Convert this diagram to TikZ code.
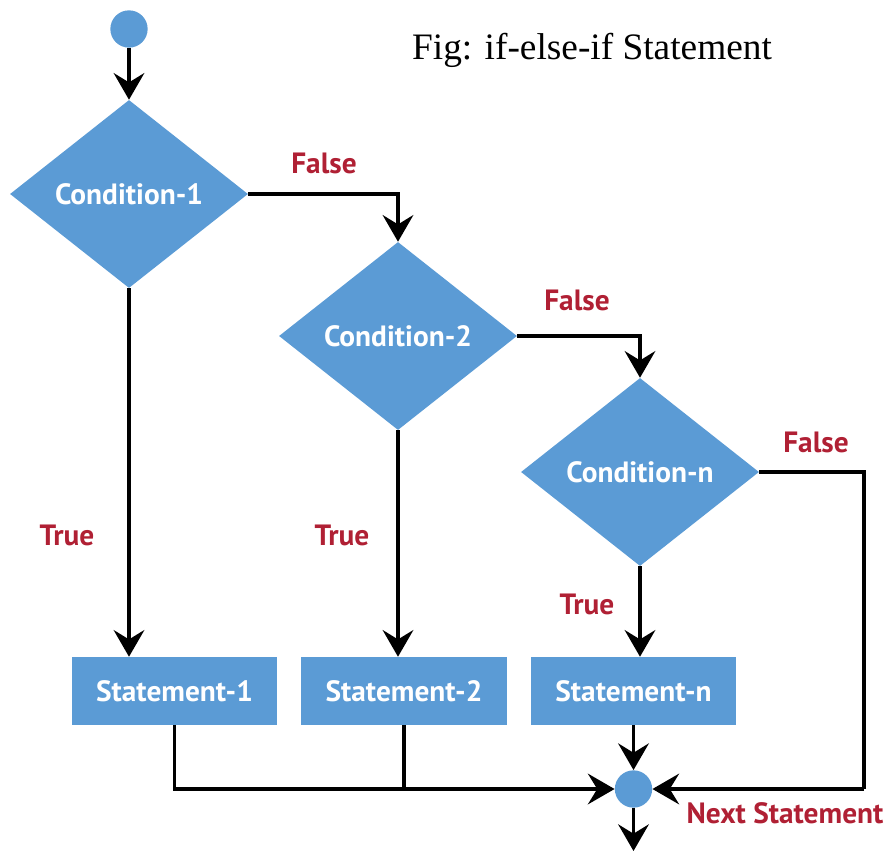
\documentclass[tikz,border=0pt]{standalone}
\usepackage{fontspec}
\setmainfont{Liberation Serif}
\setsansfont{PT Sans}
\usetikzlibrary{shapes.geometric,arrows.meta}
\definecolor{boxblue}{RGB}{91,155,213}
\definecolor{lblred}{RGB}{176,32,52}
\begin{document}
\begin{tikzpicture}[x=0.75pt,y=-0.75pt,
  cond/.style={diamond,fill=boxblue,draw=none,inner sep=0pt,aspect=1.27,
    minimum width=178.5pt,minimum height=141pt,text=white,
    font=\sffamily\bfseries\fontsize{22}{24}\selectfont},
  stmt/.style={rectangle,fill=boxblue,draw=none,minimum width=154pt,minimum height=51pt,
    inner sep=0pt,text=white,font=\sffamily\bfseries\fontsize{22}{24}\selectfont},
  dot/.style={circle,fill=boxblue,draw=none,minimum size=28pt,inner sep=0pt},
  lbl/.style={text=lblred,font=\sffamily\bfseries\fontsize{22}{24}\selectfont,inner sep=0pt},
  arr/.style={line width=2.3pt,-{Stealth[length=20pt,width=23pt,inset=7pt]}},
  ln/.style={line width=2.3pt}]
\useasboundingbox (0,0) rectangle (888,852);
\node[dot] (start) at (129,29) {};
\node[cond] (c1) at (129,194) {Condition-1};
\node[cond] (c2) at (398,336) {Condition-2};
\node[cond] (c3) at (640,472) {Condition-n};
\node[stmt] (s1) at (174.5,691) {Statement-1};
\node[stmt] (s2) at (404,691) {Statement-2};
\node[stmt] (sn) at (633.5,691) {Statement-n};
\node[dot] (end) at (633.5,789) {};
\coordinate (rx) at (864,0);
\coordinate (out) at (633.5,851);
\node[anchor=center,font=\fontsize{28}{31}\selectfont,inner sep=0pt] (title) at (592,50) {Fig: if-else-if Statement};
\node[lbl] (f1) at (324,163) {False};
\node[lbl] (f2) at (577,300) {False};
\node[lbl] (f3) at (816,442) {False};
\node[lbl] (t1) at (67,535) {True};
\node[lbl] (t2) at (342,535) {True};
\node[lbl] (t3) at (587,604) {True};
\node[lbl] (ns) at (785,813) {Next Statement};
\draw[arr] (start) -- (c1.north);
\draw[arr] (c1.east) -| (c2.north);
\draw[arr] (c2.east) -| (c3.north);
\draw[ln] (c3.east) -| (rx |- end);
\draw[arr] (rx |- end) -- (end.east);
\draw[arr] (c1.south) -- (c1.south |- s1.north);
\draw[arr] (c2.south) -- (c2.south |- s2.north);
\draw[arr] (c3.south) -- (c3.south |- sn.north);
\draw[arr] (s1.south) |- (end.west);
\draw[ln] (s2.south) -- (s2.south |- end);
\draw[arr] (sn.south) -- (end.north);
\draw[arr] (end.south) -- (out);
\end{tikzpicture}
\end{document}
